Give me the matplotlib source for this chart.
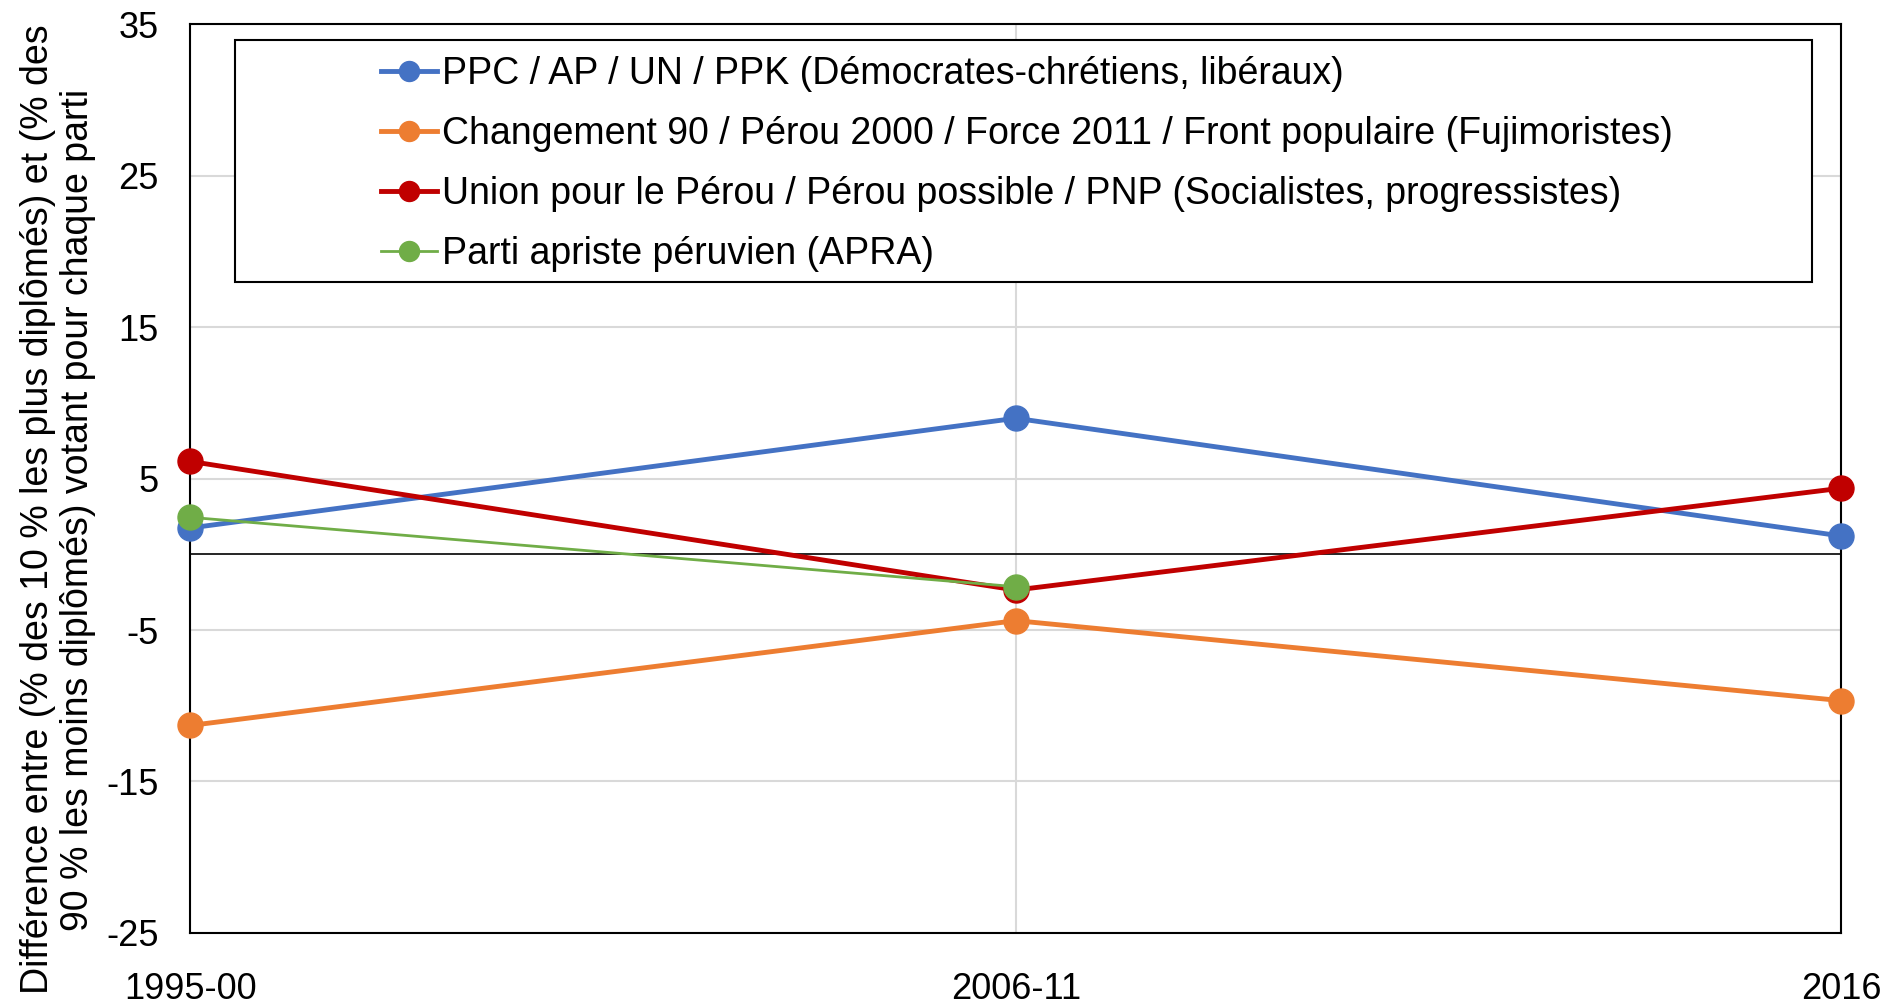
import matplotlib.pyplot as plt
from matplotlib.patches import Rectangle

plt.rcParams['font.family'] = ['Liberation Sans', 'DejaVu Sans']
plt.rcParams['axes.unicode_minus'] = False

periods = ["1995-00", "2006-11", "2016"]
ppc = [1.74, 8.98, 1.21]
fuji = [-11.3, -4.38, -9.66]
upp = [6.13, -2.36, 4.36]
apra = [2.44, -2.14]

labels = ["PPC / AP / UN / PPK (Démocrates-chrétiens, libéraux)",
          "Changement 90 / Pérou 2000 / Force 2011 / Front populaire (Fujimoristes)",
          "Union pour le Pérou / Pérou possible / PNP (Socialistes, progressistes)",
          "Parti apriste péruvien (APRA)"]
colors = ["#4472C4", "#ED7D31", "#C00000", "#70AD47"]

fig = plt.figure(figsize=(19.03, 10.06), dpi=100)
ax = fig.add_axes([0.1001, 0.0726, 0.8673, 0.9034])

x = list(range(len(periods)))
ax.plot(x, ppc, '-o', color=colors[0], lw=3.5, ms=18, label=labels[0], zorder=3, clip_on=False)
ax.plot(x, fuji, '-o', color=colors[1], lw=3.5, ms=18, label=labels[1], zorder=3, clip_on=False)
ax.plot(x, upp, '-o', color=colors[2], lw=3.5, ms=18, label=labels[2], zorder=3, clip_on=False)
ax.plot(x[:len(apra)], apra, '-o', color=colors[3], lw=2, ms=18, label=labels[3], zorder=4, clip_on=False)

ax.axhline(0, color='black', lw=1.2, zorder=2)
ax.set_xlim(0, 2)
ax.set_ylim(-25, 35)
ax.set_yticks(range(-25, 36, 10))
ax.set_xticks(x)
ax.set_xticklabels(periods)
ax.grid(True, color='#d9d9d9', lw=1.5, zorder=0)
ax.set_axisbelow(True)
for s in ax.spines.values():
    s.set_color('black')
    s.set_linewidth(1.5)
ax.tick_params(length=0, labelsize=26)
ax.tick_params(axis='x', pad=28)
ax.tick_params(axis='y', pad=23)

ax.set_ylabel("Différence entre (% des 10 % les plus diplômés) et (% des\n"
              "90 % les moins diplômés) votant pour chaque parti",
              fontsize=27, linespacing=1.15)
ax.yaxis.set_label_coords(-0.057, 0.466)

# legend frame drawn separately, content centred inside it
box = Rectangle((235 / 1903, 1 - 282 / 1006), (1812 - 235) / 1903, (282 - 40) / 1006,
                transform=fig.transFigure, facecolor='white', edgecolor='black',
                lw=1.5, zorder=5, clip_on=False)
ax.add_patch(box)
leg = ax.legend(loc='center', bbox_to_anchor=(1027 / 1903, 1 - 164 / 1006),
                bbox_transform=fig.transFigure, frameon=False, fontsize=27,
                handlelength=1.5, handletextpad=0.12, labelspacing=0.64, markerscale=0.8)
leg.set_zorder(6)

fig.savefig("out.png", dpi=100)
